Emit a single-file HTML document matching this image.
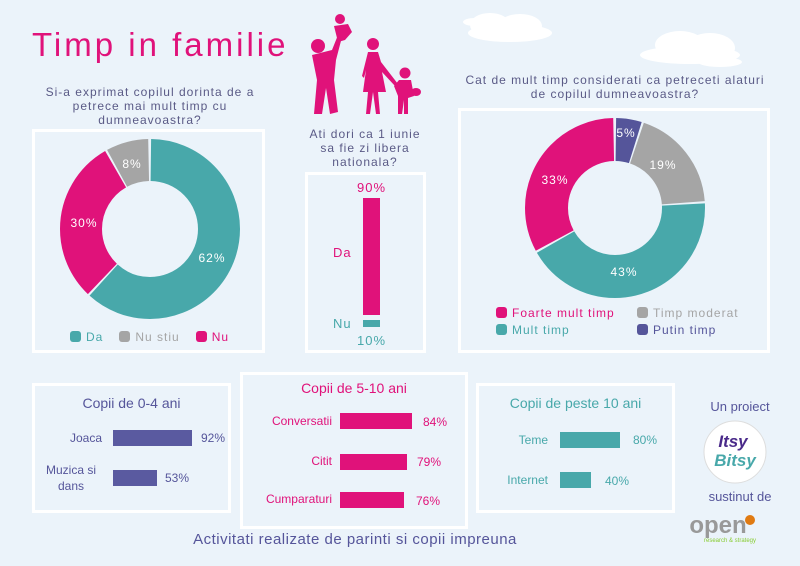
<!DOCTYPE html>
<html><head><meta charset="utf-8"><style>
body{margin:0;width:800px;height:566px;background:#ebf3fa;font-family:"Liberation Sans",sans-serif;overflow:hidden;position:relative}
.a{position:absolute;white-space:nowrap}
.box{position:absolute;border:3px solid #fff;box-sizing:border-box}
.q{color:#5a5a86;font-size:12px;letter-spacing:1px;text-align:center;line-height:14px}
.sq{display:inline-block;width:11px;height:11px;border-radius:3px;vertical-align:-1px;margin-right:5px}
</style></head><body>
<svg class="a" style="left:0;top:0" width="800" height="566">
<g fill="#fff">
<ellipse cx="490" cy="25" rx="20" ry="12"/><ellipse cx="520" cy="26" rx="22" ry="12"/><ellipse cx="510" cy="33" rx="42" ry="9"/><ellipse cx="475" cy="22" rx="12" ry="4"/>
<ellipse cx="680" cy="45" rx="25" ry="14"/><ellipse cx="710" cy="48" rx="25" ry="15"/><ellipse cx="690" cy="55" rx="50" ry="9"/><ellipse cx="720" cy="62" rx="22" ry="5"/>
</g>
<!-- family -->
<g fill="#e0127a">
<circle cx="318" cy="46" r="7"/><path d="M312 55 L332 50 L338 35 L342 37 L336 60 L334 80 L338 112 L330 114 L326 88 L322 114 L314 114 L317 80 Z"/>
<circle cx="340" cy="19" r="5"/><path d="M334 26 L348 24 L352 32 L345 40 L338 42 Z"/>
<circle cx="373" cy="44" r="6"/><path d="M368 52 L378 52 L381 62 L398 84 L395 86 L382 72 L386 92 L378 92 L380 114 L376 114 L373 92 L370 114 L366 114 L368 92 L363 92 L366 70 L364 78 L362 76 Z"/>
<circle cx="405" cy="73" r="5.5"/><path d="M399 80 L411 80 L414 96 L408 98 L408 114 L404 114 L404 100 L402 114 L398 114 L398 96 L394 86 Z"/><ellipse cx="416" cy="92" rx="5" ry="4"/>
</g>
<!-- left donut -->
<g transform="rotate(-90 150 229)" fill="none" stroke-width="42">
<circle cx="150" cy="229" r="69" stroke="#48a8aa" pathLength="100" stroke-dasharray="61.6 38.4" stroke-dashoffset="-0.2"/>
<circle cx="150" cy="229" r="69" stroke="#e0127a" pathLength="100" stroke-dasharray="29.6 70.4" stroke-dashoffset="-62.2"/>
<circle cx="150" cy="229" r="69" stroke="#a5a5a5" pathLength="100" stroke-dasharray="7.6 92.4" stroke-dashoffset="-92.2"/>
</g>
<!-- right donut -->
<g transform="rotate(-90 615 208)" fill="none" stroke-width="43">
<circle cx="615" cy="208" r="68.5" stroke="#55559a" pathLength="100" stroke-dasharray="4.6 95.4" stroke-dashoffset="-0.2"/>
<circle cx="615" cy="208" r="68.5" stroke="#a5a5a5" pathLength="100" stroke-dasharray="18.6 81.4" stroke-dashoffset="-5.2"/>
<circle cx="615" cy="208" r="68.5" stroke="#48a8aa" pathLength="100" stroke-dasharray="42.6 57.4" stroke-dashoffset="-24.2"/>
<circle cx="615" cy="208" r="68.5" stroke="#e0127a" pathLength="100" stroke-dasharray="32.6 67.4" stroke-dashoffset="-67.2"/>
</g>
<g fill="#fff" font-family="Liberation Sans" font-size="12" letter-spacing="1" text-anchor="middle">
<text x="212" y="262">62%</text><text x="84" y="227">30%</text><text x="132" y="168">8%</text>
<text x="626" y="137">5%</text><text x="663" y="169">19%</text><text x="624" y="276">43%</text><text x="555" y="184">33%</text>
</g>
<!-- itsy logo -->
<circle cx="735" cy="452" r="31" fill="#fff" stroke="#ddd"/>
<text x="733" y="447" font-size="17" font-weight="bold" font-style="italic" fill="#4a2a8a" text-anchor="middle">Itsy</text>
<text x="735" y="466" font-size="17" font-weight="bold" font-style="italic" fill="#48a8aa" text-anchor="middle">Bitsy</text>
<text x="718" y="533" font-size="24" font-weight="bold" fill="#999" text-anchor="middle">open</text>
<circle cx="750" cy="520" r="5" fill="#e07a12"/>
<text x="730" y="542" font-size="6" fill="#8c3" text-anchor="middle">research &amp; strategy</text>
</svg>

<div class="a" style="left:32px;top:26px;font-size:33px;color:#e0127a;letter-spacing:3px">Timp in familie</div>
<div class="a q" style="left:20px;width:260px;top:85px">Si-a exprimat copilul dorinta de a<br>petrece mai mult timp cu<br>dumneavoastra?</div>
<div class="box" style="left:32px;top:129px;width:233px;height:224px"></div>
<div class="a" style="left:70px;top:330px;font-size:12px;letter-spacing:1px"><span class="sq" style="background:#48a8aa"></span><span style="color:#48a8aa">Da</span><span class="sq" style="background:#a5a5a5;margin-left:16px"></span><span style="color:#a5a5a5">Nu stiu</span><span class="sq" style="background:#e0127a;margin-left:16px"></span><span style="color:#e0127a">Nu</span></div>

<div class="a q" style="left:300px;width:130px;top:127px">Ati dori ca 1 iunie<br>sa fie zi libera<br>nationala?</div>
<div class="box" style="left:305px;top:172px;width:121px;height:181px"></div>
<div class="a" style="left:363px;top:198px;width:17px;height:117px;background:#e0127a"></div>
<div class="a" style="left:363px;top:320px;width:17px;height:7px;background:#48a8aa"></div>
<div class="a" style="left:357px;top:180px;font-size:13px;color:#e0127a;letter-spacing:1px">90%</div>
<div class="a" style="left:333px;top:245px;font-size:13px;color:#e0127a;letter-spacing:1px">Da</div>
<div class="a" style="left:333px;top:316px;font-size:13px;color:#48a8aa;letter-spacing:1px">Nu</div>
<div class="a" style="left:357px;top:333px;font-size:13px;color:#48a8aa;letter-spacing:1px">10%</div>

<div class="a q" style="left:455px;width:320px;top:73px">Cat de mult timp considerati ca petreceti alaturi<br>de copilul dumneavoastra?</div>
<div class="box" style="left:458px;top:108px;width:312px;height:245px"></div>
<div class="a" style="left:496px;top:305px;font-size:12px;letter-spacing:1px;line-height:17px"><span class="sq" style="background:#e0127a"></span><span style="color:#e0127a">Foarte mult timp</span><br><span class="sq" style="background:#48a8aa"></span><span style="color:#48a8aa">Mult timp</span></div>
<div class="a" style="left:637px;top:305px;font-size:12px;letter-spacing:1px;line-height:17px"><span class="sq" style="background:#a5a5a5"></span><span style="color:#a5a5a5">Timp moderat</span><br><span class="sq" style="background:#55559a"></span><span style="color:#55559a">Putin timp</span></div>

<div class="box" style="left:32px;top:383px;width:199px;height:130px"></div>
<div class="a" style="left:32px;width:199px;text-align:center;top:395px;font-size:14px;color:#55559a">Copii de 0-4 ani</div>
<div class="a" style="left:40px;width:62px;text-align:right;top:431px;font-size:12px;color:#55559a">Joaca</div>
<div class="a" style="left:113px;top:430px;width:79px;height:16px;background:#5a5aa0"></div>
<div class="a" style="left:201px;top:431px;font-size:12px;color:#55559a">92%</div>
<div class="a" style="left:40px;width:62px;text-align:center;top:462px;font-size:12px;color:#55559a;line-height:16px">Muzica si<br>dans</div>
<div class="a" style="left:113px;top:470px;width:44px;height:16px;background:#5a5aa0"></div>
<div class="a" style="left:165px;top:471px;font-size:12px;color:#55559a">53%</div>

<div class="box" style="left:240px;top:372px;width:228px;height:157px"></div>
<div class="a" style="left:240px;width:228px;text-align:center;top:380px;font-size:14px;color:#e0127a">Copii de 5-10 ani</div>
<div class="a" style="left:240px;width:92px;text-align:right;top:414px;font-size:12px;color:#e0127a">Conversatii</div>
<div class="a" style="left:340px;top:413px;width:72px;height:16px;background:#e0127a"></div>
<div class="a" style="left:423px;top:415px;font-size:12px;color:#e0127a">84%</div>
<div class="a" style="left:240px;width:92px;text-align:right;top:454px;font-size:12px;color:#e0127a">Citit</div>
<div class="a" style="left:340px;top:454px;width:67px;height:16px;background:#e0127a"></div>
<div class="a" style="left:417px;top:455px;font-size:12px;color:#e0127a">79%</div>
<div class="a" style="left:240px;width:92px;text-align:right;top:492px;font-size:12px;color:#e0127a">Cumparaturi</div>
<div class="a" style="left:340px;top:492px;width:64px;height:16px;background:#e0127a"></div>
<div class="a" style="left:416px;top:494px;font-size:12px;color:#e0127a">76%</div>

<div class="box" style="left:476px;top:383px;width:199px;height:130px"></div>
<div class="a" style="left:476px;width:199px;text-align:center;top:395px;font-size:14px;color:#48a8aa">Copii de peste 10 ani</div>
<div class="a" style="left:480px;width:68px;text-align:right;top:433px;font-size:12px;color:#48a8aa">Teme</div>
<div class="a" style="left:560px;top:432px;width:60px;height:16px;background:#48a8aa"></div>
<div class="a" style="left:633px;top:433px;font-size:12px;color:#48a8aa">80%</div>
<div class="a" style="left:480px;width:68px;text-align:right;top:473px;font-size:12px;color:#48a8aa">Internet</div>
<div class="a" style="left:560px;top:472px;width:31px;height:16px;background:#48a8aa"></div>
<div class="a" style="left:605px;top:474px;font-size:12px;color:#48a8aa">40%</div>

<div class="a" style="left:690px;width:100px;text-align:center;top:399px;font-size:13px;color:#55559a">Un proiect</div>
<div class="a" style="left:690px;width:100px;text-align:center;top:489px;font-size:13px;color:#55559a">sustinut de</div>
<div class="a" style="left:160px;width:390px;text-align:center;top:531px;font-size:15px;color:#55559a;letter-spacing:0.5px">Activitati realizate de parinti si copii impreuna</div>
</body></html>
